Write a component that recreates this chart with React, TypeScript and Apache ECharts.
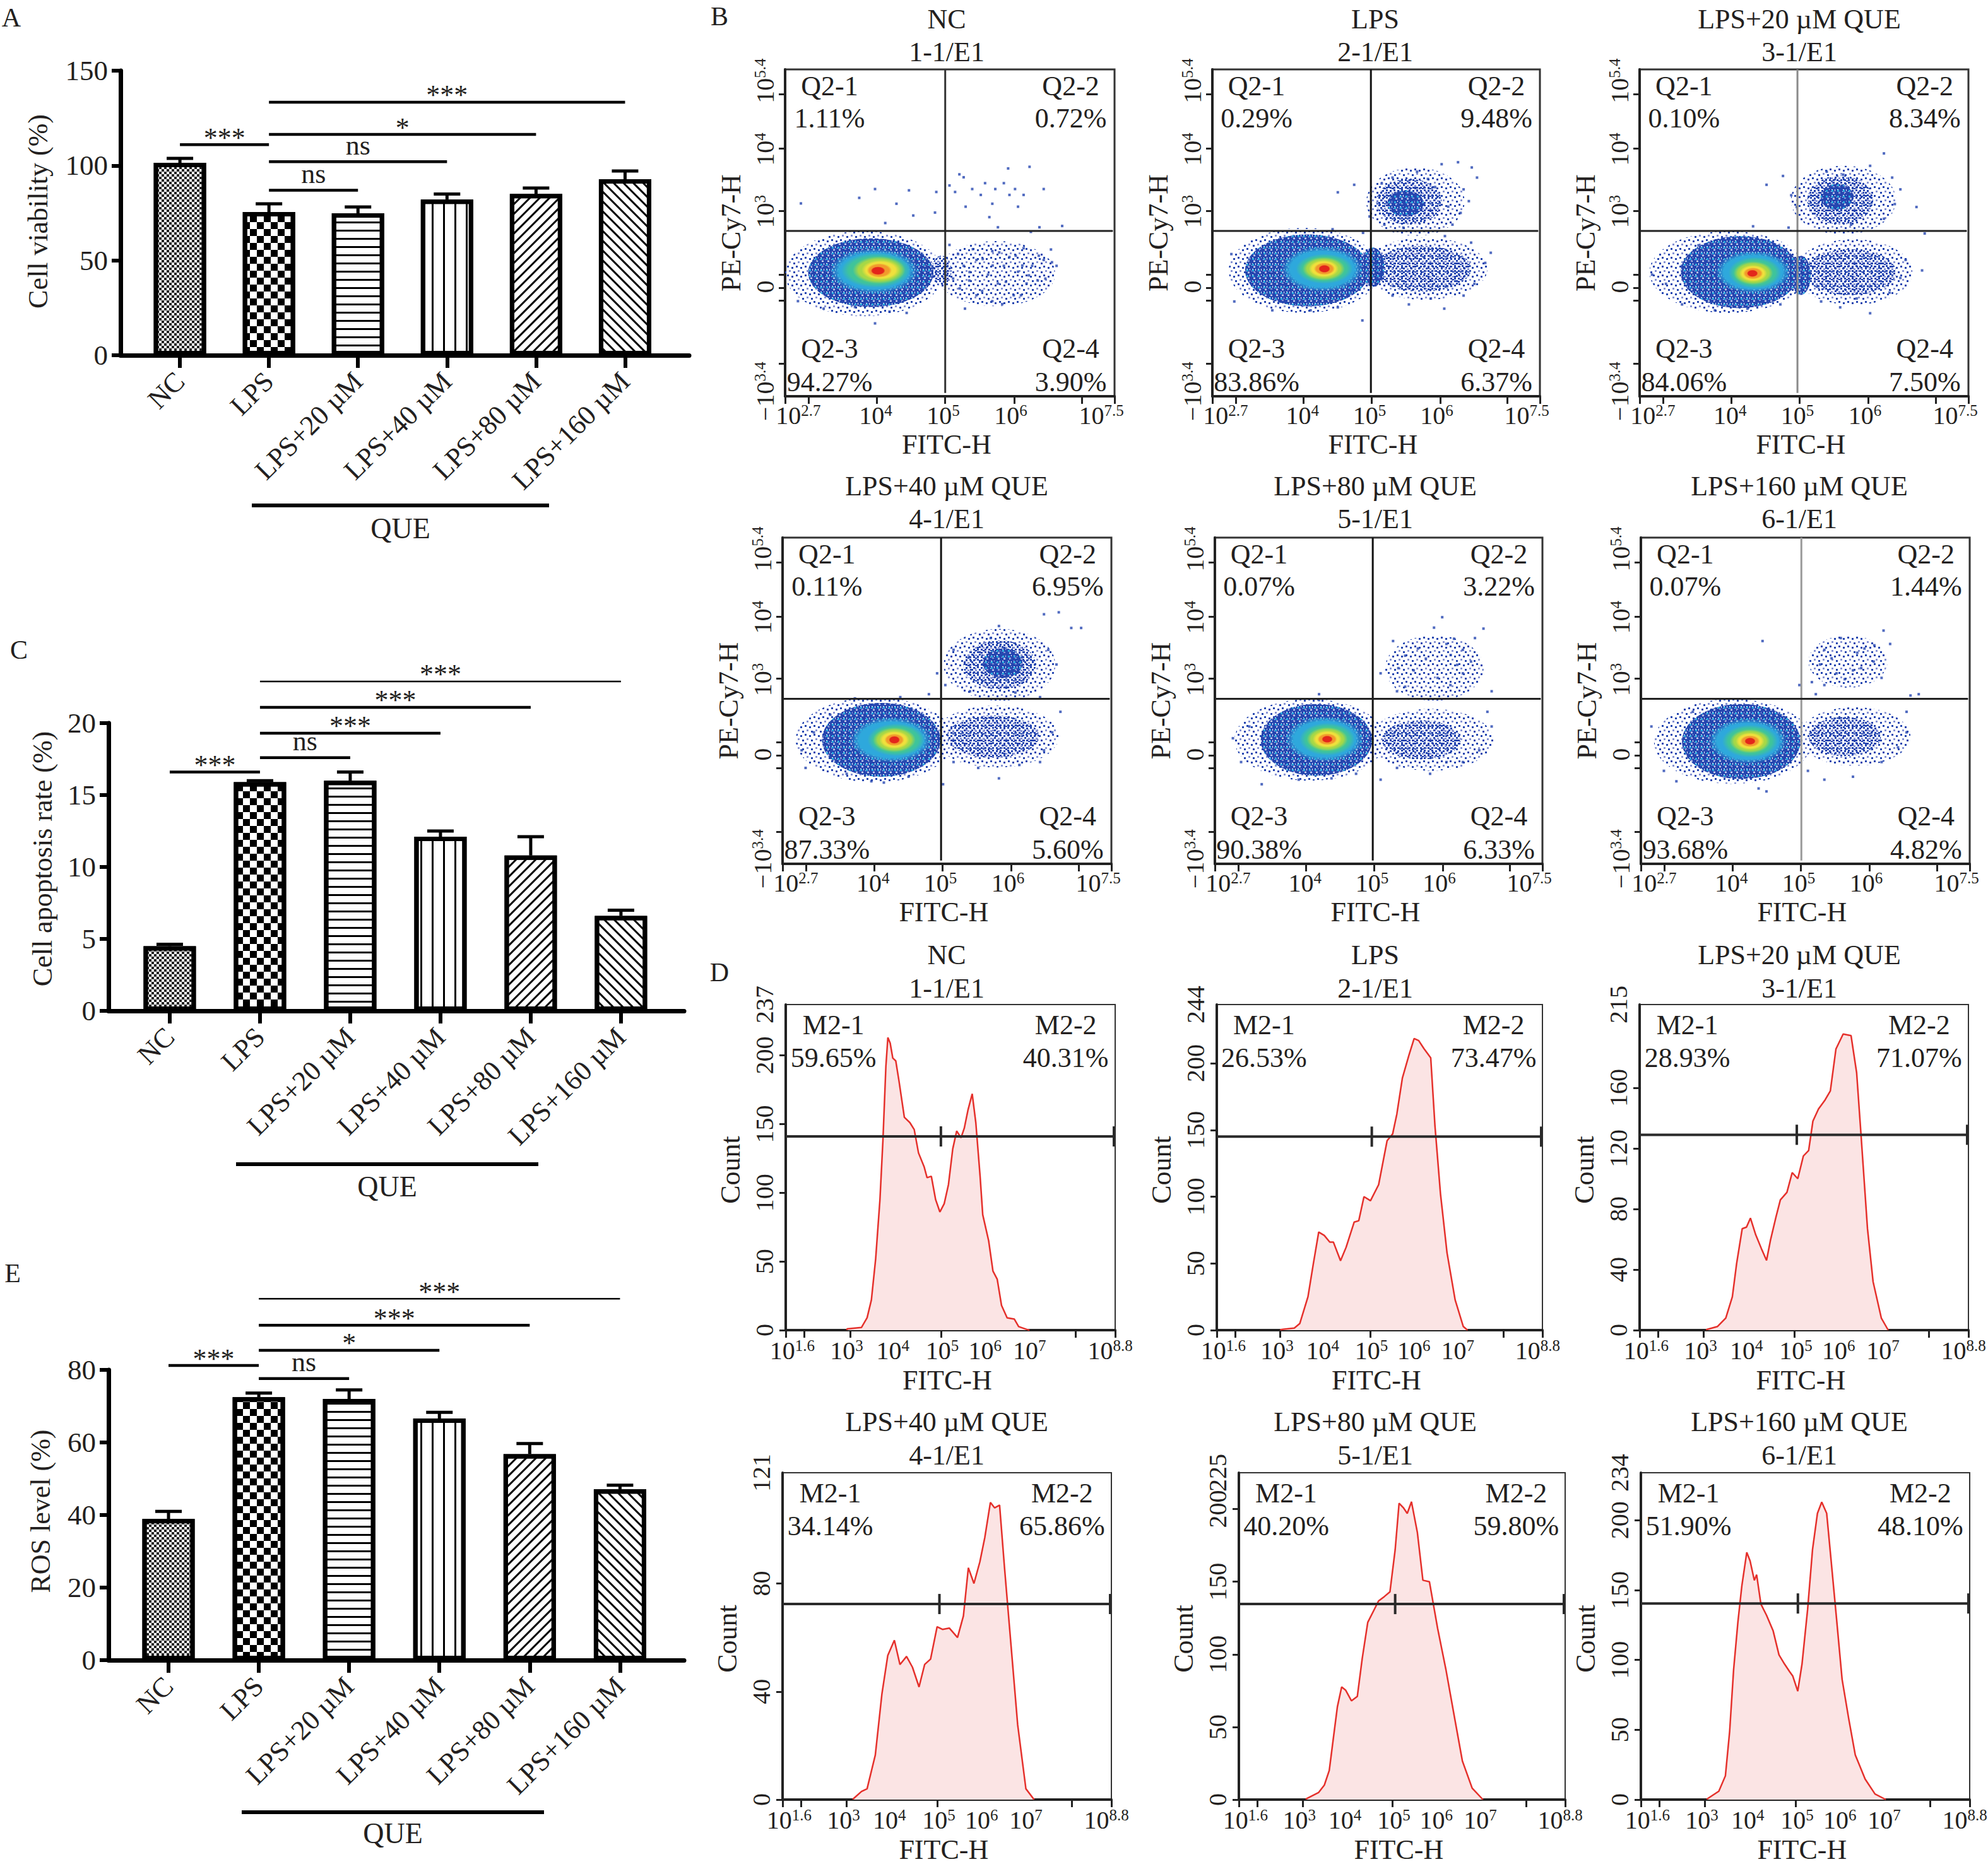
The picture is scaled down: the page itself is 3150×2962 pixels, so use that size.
import { useEffect, useRef } from 'react';
import * as echarts from 'echarts';

const FONT = '"Liberation Serif", "Times New Roman", serif';
const INK = '#231f20';

// ---------- bar panels A, C, E ----------
const groups = ['NC', 'LPS', 'LPS+20 µM', 'LPS+40 µM', 'LPS+80 µM', 'LPS+160 µM'];
const viability = [101.4, 75.5, 74.8, 82.1, 85.1, 92.8];
const viabilityErr = [2.4, 4.3, 3.4, 2.9, 3.0, 4.3];
const apoptosis = [4.5, 15.9, 16.0, 12.1, 10.8, 6.6];
const apoptosisErr = [0.13, 0.1, 0.6, 0.4, 1.3, 0.4];
const ros = [38.9, 72.5, 72.0, 66.6, 56.8, 47.1];
const rosErr = [2.1, 1.1, 2.5, 1.7, 2.9, 1.1];
// [from group, to group, height, mark]
const viabilitySig = [[0, 1, 111, '***'], [1, 2, 87, 'ns'], [1, 3, 102, 'ns'], [1, 4, 116.4, '*'], [1, 5, 133.4, '***']];
const apoptosisSig = [[0, 1, 16.6, '***'], [1, 2, 17.6, 'ns'], [1, 3, 19.3, '***'], [1, 4, 21.1, '***'], [1, 5, 22.9, '***']];
const rosSig = [[0, 1, 81.2, '***'], [1, 2, 77.6, 'ns'], [1, 3, 85.4, '*'], [1, 4, 92.3, '***'], [1, 5, 99.6, '***']];

// ---------- flow panels B, D ----------
const flowTitles = ['NC', 'LPS', 'LPS+20 µM QUE', 'LPS+40 µM QUE', 'LPS+80 µM QUE', 'LPS+160 µM QUE'];
const flowSamples = ['1-1/E1', '2-1/E1', '3-1/E1', '4-1/E1', '5-1/E1', '6-1/E1'];
const quadPct = [
  ['1.11%', '0.72%', '94.27%', '3.90%'],
  ['0.29%', '9.48%', '83.86%', '6.37%'],
  ['0.10%', '8.34%', '84.06%', '7.50%'],
  ['0.11%', '6.95%', '87.33%', '5.60%'],
  ['0.07%', '3.22%', '90.38%', '6.33%'],
  ['0.07%', '1.44%', '93.68%', '4.82%'],
];
const gatePct = [
  ['59.65%', '40.31%'], ['26.53%', '73.47%'], ['28.93%', '71.07%'],
  ['34.14%', '65.86%'], ['40.20%', '59.80%'], ['51.90%', '48.10%'],
];

// scatter axes (positions in % of the plot box)
const dotXPos = [4, 27.5, 48, 68.5, 96];
const dotXText = ['10{s|2.7}', '10{s|4}', '10{s|5}', '10{s|6}', '10{s|7.5}'];
const dotXTicks = [0, 7.1, 27.8, 48.6, 69.6, 90, 100];
const dotYPos = [1.5, 33.5, 56.5, 75.6, 96.5];
const dotYText = ['−10{s|3.4}', '0', '10{s|3}', '10{s|4}', '10{s|5.4}'];
const dotYTicks = [9.9, 29.3, 33.2, 37.2, 56.8, 75.8, 92.5];
const quadX = [48.6, 48.4, 48, 48.2, 48.2, 48.8];
const quadY = 50.6;

// density layers [cx, cy, rx, ry, level] and single events [x, y]
const densNC = [
  [24, 37.5, 24, 13, 0], [64, 37.5, 18, 10, 0], [47.5, 38.5, 3, 4.5, 1],
  [26, 37.8, 19, 10.5, 2], [27, 38.3, 13.5, 7, 3], [27.5, 38.5, 10.5, 5.3, 4], [28.5, 38.6, 8, 4.2, 5],
  [29, 38.6, 5.8, 3.1, 6], [28.6, 38.5, 3.8, 2.2, 7], [28.2, 38.4, 2.2, 1.3, 8],
];
const densLPS = [
  [28, 38.5, 23, 13, 0], [62, 59.5, 15, 10.5, 0], [65, 39, 19, 9.5, 0], [64, 39, 15, 7, 1], [60, 59.5, 10, 7, 1],
  [59, 59, 5.5, 4, 2], [49, 39.5, 3.5, 6, 2],
  [29, 38.5, 19, 11, 2], [33.5, 38.9, 12.5, 7, 3], [34.2, 39, 8.7, 4.6, 4], [34, 39, 6.5, 3.6, 5],
  [34, 39, 4.6, 2.7, 6], [34.2, 39, 3.2, 1.9, 7], [34.2, 39, 1.8, 1.2, 8],
];
const dens20 = [
  [27, 38, 24, 12.5, 0], [62, 60, 16, 10.5, 0], [65, 38, 18, 10, 0], [64, 38, 14, 7, 1], [61, 60, 10, 7.5, 1],
  [60, 61, 5, 4, 2], [49, 37, 3, 6, 2],
  [30.5, 38, 18, 11, 2], [34.5, 38, 11.5, 6.5, 3], [35, 37.8, 8, 4.8, 4], [34.6, 37.7, 6, 3.6, 5],
  [34.5, 37.6, 4.3, 2.6, 6], [34.5, 37.6, 3, 1.8, 7], [34.3, 37.6, 1.7, 1.1, 8],
];
const dens40 = [
  [28, 38, 24, 13, 0], [66, 61, 17, 11, 0], [65, 39, 19, 9.5, 0], [64, 39, 14, 6.5, 1], [66, 61, 11, 7.5, 1],
  [67, 61.5, 6, 4.5, 2],
  [30, 38, 18, 11.3, 2], [33, 38, 12.5, 7, 3], [34.5, 38, 8.7, 5, 4], [34, 38, 6.5, 3.8, 5],
  [34, 38, 4.6, 2.8, 6], [34, 38, 3, 1.9, 7], [34, 38, 1.7, 1.2, 8],
];
const dens80 = [
  [29, 38, 23, 12.5, 0], [67, 60, 15, 10, 0], [66, 38, 19, 9.5, 0], [63, 38, 12, 6, 1],
  [31, 38, 17, 11, 2], [33.5, 38.2, 12, 7, 3], [34.3, 38.2, 8.5, 5, 4], [34.3, 38.2, 6.3, 3.7, 5],
  [34.3, 38.2, 4.5, 2.7, 6], [34.3, 38.2, 3, 1.8, 7], [34.3, 38.2, 1.7, 1.1, 8],
];
const dens160 = [
  [28, 37.5, 24, 13, 0], [63, 62, 12, 8, 0], [65, 39, 17, 9, 0], [62, 39, 11, 6, 1],
  [30.5, 37.5, 18, 11.5, 2], [32.5, 37.6, 12, 7, 3], [33.2, 37.6, 8.5, 5, 4], [33.2, 37.6, 6.2, 3.7, 5],
  [33.2, 37.6, 4.4, 2.7, 6], [33.2, 37.6, 3, 1.8, 7], [33.2, 37.6, 1.7, 1.1, 8],
];
const dotsNC = [
  [4.8, 59], [22.5, 60.7], [27.3, 63.4], [30.4, 53], [33.8, 58.9], [37.6, 63], [38.9, 55.3], [45.9, 62.5], [45.5, 56.2],
  [49.9, 64.5], [52.9, 67.9], [54.2, 67], [51.6, 62.5], [54.8, 58], [56.8, 63.4], [59.4, 61.6], [60.7, 65.2], [62, 54.8],
  [62.9, 58.9], [63.8, 63.4], [66.4, 65.2], [67.7, 69.7], [68.1, 61.6], [69.8, 63.4], [70.7, 58], [72.4, 61.6], [74.2, 70.2],
  [78.5, 63.4], [84.1, 52.1], [77.2, 51.7], [64.6, 51.7], [74.6, 50.3],
  [49.9, 46.3], [52.5, 43.5], [54.2, 39.9], [55.9, 35.4], [58.1, 41.7], [59.8, 32.2], [61.6, 37.2], [62.9, 44.4], [64.6, 34.5],
  [66.4, 39.9], [68.1, 42.6], [69.4, 30.9], [70.7, 38.1], [72.4, 45.3], [73.3, 34.5], [75, 39.9], [76.7, 35.4], [78.5, 41.7],
  [80.7, 44.9], [82.4, 39.9], [54.6, 26.8], [62.9, 29.1], [65.9, 28.2], [71.6, 30.9], [58.1, 30.9],
  [51, 36], [53, 33], [57, 45], [60, 42], [63, 40], [67, 35], [70, 43], [74, 37], [77, 43], [79, 36], [81, 41], [56, 38], [65, 44], [72, 40],
  [27.3, 22.3], [11.7, 26.8], [3.9, 29.1], [36.9, 25.5], [31.7, 25.9], [21.2, 27.3],
];
const dotsLPS = [
  [43.3, 64.7], [38.3, 62.4], [62.5, 68.7], [70, 71], [75, 71.6], [79.2, 70], [80.8, 66.9], [76.7, 63.3], [78.3, 59.7],
  [75.8, 56.1], [73.3, 52.5], [51.7, 65.1], [55, 66.9], [65.8, 66.5], [52.5, 52.5], [58.3, 51.6], [36.7, 51.1], [31.7, 48.9],
  [68, 64], [72, 58], [48, 55], [46, 50], [71, 49], [79, 47],
  [83.3, 40.8], [85, 43.9], [80, 34.4], [76.7, 30.8], [70.8, 26.8], [60, 28.1], [66.7, 29.9], [55, 30.8],
  [5.8, 43.5], [6.7, 29], [18.3, 26.3], [30, 26.3], [45.8, 23.2], [38.3, 27.2], [11.7, 36.2],
];
const dots20 = [
  [74.3, 74.3], [43.6, 67.4], [38.6, 64.7], [56.9, 68.7], [61.9, 67.8], [70.1, 70.5], [76.8, 66.9], [79.3, 63.3], [77.6, 58.8],
  [84.2, 57.9], [86.7, 49.8], [46.1, 61.5], [47.8, 57.9], [45.3, 51.6], [34.5, 52], [64.3, 52.5], [74.3, 54.3],
  [80.9, 41.7], [79.3, 36.2], [85.9, 38.5], [76, 31.7], [70.1, 25.4], [61, 27.2], [55.2, 29], [66, 29.9],
  [3.8, 37.2], [8, 34.4], [12.9, 39.9], [12.9, 28.1], [22.9, 26.3], [32.8, 26.8], [42.8, 28.1], [17.9, 46.2],
];
const dots40 = [
  [79.5, 76.5], [84, 77.1], [87.8, 72.3], [90.8, 72.3], [65.8, 72.9], [63.3, 69.2], [52, 65.6], [47, 58.4], [49.5, 54.8],
  [57, 52.9], [70.8, 52.5], [78.3, 51.1], [80.8, 65.6], [83.3, 61.1], [44.5, 52], [22, 50.7], [35.8, 51.1],
  [84.5, 46.6], [82, 40.3], [79.5, 34.8], [78.3, 31.2], [72, 30.3], [65.8, 26.2], [59.5, 29.4], [52, 31.2], [48.8, 24.4],
  [7, 29.4], [5.8, 34.8], [14.5, 45.7], [9.5, 40.3], [27, 25.3], [30.8, 24.9], [38.3, 26.7], [19.5, 27.6],
];
const dots80 = [
  [69.4, 75.6], [66.9, 72.4], [82, 72.1], [54.4, 68.3], [58.1, 63.8], [60.7, 59.3], [64.4, 62.9], [70.7, 67.4], [75.7, 65.6],
  [79.4, 69.2], [78.2, 62], [75.7, 58.4], [71.9, 54.8], [55.6, 52.9], [58.1, 54.3], [84.5, 52.9], [50.6, 58.4], [31.8, 52],
  [31.8, 50.2], [72, 64], [74, 61], [68, 57], [62, 66], [56, 60], [73, 69],
  [83.2, 46.6], [84.5, 42.1], [80.7, 34.8], [75.7, 31.2], [65.7, 27.6], [55.6, 29.4], [50.6, 25.8], [70.7, 31.2],
  [5.5, 38.5], [10.5, 42.1], [8, 31.2], [14.3, 24.4], [25.6, 25.8], [35.6, 26.2], [43.1, 27.6],
];
const dots160 = [
  [37, 68.3], [60.8, 69.2], [73.8, 71.5], [75.8, 67.4], [55.8, 65.6], [65.8, 64.7], [70.8, 62], [54.5, 61.1], [59.5, 58.4],
  [64.5, 59.3], [73.2, 57], [52, 55.7], [55.8, 54.8], [48.2, 54.8], [53.2, 52], [82, 51.6], [84.5, 52], [62, 56.6],
  [68, 66], [58, 63], [67, 60], [71, 67],
  [80.8, 46.6], [80.8, 40.3], [78.2, 35.7], [73.2, 31.2], [64.5, 26.7], [55.8, 25.8], [50.8, 28.5],
  [3.2, 42.1], [7, 28.5], [10.8, 25.3], [25.8, 26.7], [35.8, 23.1], [38.2, 22.2], [15.8, 46.6],
];

// histograms: [x in % of box, count]
const histNC = [
  [18.6, 0], [18.6, 0.9], [23, 2], [24.7, 9], [26, 22], [27.3, 52], [28.6, 95], [29.5, 138], [30.4, 192], [31, 213],
  [31.7, 209], [32.5, 198], [33.4, 196], [34.4, 181], [36, 155], [37.7, 151], [39, 146], [40.3, 129], [42, 119],
  [42.9, 111], [44.2, 112], [45.5, 95], [46.8, 86], [48.1, 92], [49.4, 106], [50.7, 132], [51.9, 145], [53.2, 140],
  [54.2, 147], [55.3, 160], [56.6, 172], [57.7, 151], [59, 112], [59.8, 84], [61.6, 65], [62.9, 43], [64.2, 37],
  [65.5, 18], [67.2, 9], [69.4, 8], [70.7, 2.6], [73.3, 0.4], [74, 0],
];
const histLPS = [
  [19.6, 0], [19.6, 0.4], [23.8, 1.5], [25.5, 5], [28, 25], [29.6, 49], [31.3, 73.5], [33, 71], [34.7, 66], [35.8, 66],
  [38, 52], [39.7, 62], [42.2, 81], [43.6, 82], [45.2, 100], [47.2, 97], [49.7, 109], [52.3, 142], [54, 147], [55.3, 162],
  [57, 189], [59, 206], [60.6, 218.5], [62, 217], [63.6, 211], [65.7, 204], [67, 153], [68.7, 102], [70.7, 58],
  [73.2, 22.6], [75.7, 2.7], [77, 0],
];
const hist20 = [
  [20.4, 0], [20.4, 0.4], [23.7, 2.4], [26.2, 8], [28.2, 22], [29.5, 44], [31.2, 67], [32.5, 68], [33.7, 74], [35.3, 63],
  [37, 54], [38.6, 46], [39.8, 59.5], [41.5, 75], [42.8, 86], [44.8, 91], [46.4, 104], [48.1, 100], [49.8, 115],
  [51.4, 118.6], [52.7, 138], [54.4, 146], [56.4, 152], [58, 158], [59.7, 185.6], [61.9, 195.5], [64.3, 194.5],
  [66, 170], [67.3, 130], [69.3, 67], [71, 32], [73.5, 8], [75.6, 0],
];
const hist40 = [
  [21.5, 0], [21.5, 0.3], [24, 3], [25.7, 4], [28.2, 16.5], [30.2, 39], [32, 53.4], [34, 59], [35.7, 50], [37.7, 53],
  [39.5, 49], [41.5, 41.7], [43.2, 50], [45, 52], [47, 64], [48.7, 63], [50.7, 63.5], [53.2, 60], [55, 68], [56.5, 85.8],
  [58.2, 80], [60, 88], [61.5, 97], [63.2, 110], [64.5, 108], [66, 109], [67.5, 85.8], [69.5, 56.8], [71.5, 27.7],
  [74, 4], [76.5, 0],
];
const hist80 = [
  [20.7, 0], [20.7, 0.6], [24.4, 4.8], [26.2, 10], [27.7, 20], [29, 43], [30.2, 64], [31.5, 77.5], [32.7, 75.4],
  [34.5, 68], [36.3, 71], [37.8, 97], [39.5, 122], [41.3, 130], [42.8, 136.7], [44.6, 139.8], [46.3, 143], [47.9, 172],
  [49.1, 204], [50.4, 201], [51.6, 197], [52.9, 205], [54.7, 184], [56.4, 151], [58.4, 150], [60.9, 118], [63.5, 89],
  [66, 57.7], [68.5, 26.6], [71.5, 7.9], [74.8, 0],
];
const hist160 = [
  [20.2, 0], [20.2, 0.6], [23.7, 6], [25.7, 17], [27, 49], [28.2, 93], [29.5, 127], [30.7, 153], [32.2, 177], [33.2, 171],
  [34.5, 157], [35.2, 161], [36.5, 140], [38.2, 132], [40.2, 121], [42, 103.6], [43.7, 97], [45.2, 91.7], [46.2, 88.4],
  [47.7, 77.6], [49, 97], [50.7, 136], [52.2, 179], [53.7, 205], [55, 213], [56.5, 205], [57.7, 175], [59.5, 129.6],
  [61.2, 86], [63.2, 58], [65.2, 32], [68.2, 14.7], [71.2, 4], [74.5, 0],
];
const histMax = [237, 244, 215, 121, 225, 234];
const histYTicks = [
  [0, 50, 100, 150, 200], [0, 50, 100, 150, 200], [0, 40, 80, 120, 160],
  [0, 40, 80], [0, 50, 100, 150, 200], [0, 50, 100, 150, 200],
];
const histXPos = [2, 18.5, 32.5, 47.5, 60.5, 74, 98.5];
const histXText = ['10{s|1.6}', '10{s|3}', '10{s|4}', '10{s|5}', '10{s|6}', '10{s|7}', '10{s|8.8}'];
const histXTicks = [0, 5.6, 19.5, 47.1, 88, 100];
const markerLevel = [141, 145, 129, 72.4, 134.6, 140.4];
const markerGate = [47.1, 47.6, 47.8, 47.7, 47.9, 47.75];

// ---------- layout (pixels) ----------
const barLayout = [
  { box: [191, 112, 901, 451], range: [-0.667, 5.72], nameAt: [60, 335], que: [399, 870, 801, 837], letter: [18, 28] },
  { box: [172, 1146, 912, 456], range: [-0.678, 5.7], nameAt: [67, 1361], que: [374, 853, 1845, 1880], letter: [30, 1030] },
  { box: [172, 2171, 912, 460], range: [-0.664, 5.71], nameAt: [64, 2395], que: [383, 862, 2872, 2905], letter: [20, 2018] },
];
const dotBoxes = [
  [1244, 110, 522, 518], [1921, 110, 519, 518], [2598, 110, 521, 518],
  [1240, 852, 521, 517], [1925, 852, 519, 517], [2600, 852, 521, 517],
];
const histBoxes = [
  [1245, 1592, 522, 516], [1928, 1592, 516, 516], [2598, 1592, 521, 516],
  [1240, 2334, 521, 518], [1963, 2334, 517, 518], [2600, 2334, 521, 518],
];
const titleX = [1500, 2179, 2851];

// ---------- styles ----------
const BLUE = '#2546b0';
const LAV = '#8793d4';
const CYAN = '#29a9de';
// speckle tiles: [size, [x, y, colour]...]
const tileSparse: any = [14, [[1, 1, BLUE], [8, 3, BLUE], [4, 8, LAV], [11, 10, BLUE]]];
const tileMedium: any = [12, [[0, 0, BLUE], [6, 1, BLUE], [3, 4, BLUE], [9, 5, LAV], [0, 8, BLUE], [6, 8, BLUE], [9, 10, BLUE]]];
const tileDense: any = [9, [[0, 0, BLUE], [3, 0, BLUE], [6, 1, BLUE], [1, 3, BLUE], [4, 4, CYAN], [7, 4, BLUE], [0, 6, BLUE], [3, 7, BLUE], [6, 7, LAV]]];
const coreColors = ['', '', '', '#2ea8dc', '#3fc49a', '#a7d846', '#f0e03c', '#f29a2c', '#e3261b'];
const quadColors = ['#333', '#111', '#8a8a8a', '#111', '#111', '#9a9a9a'];

const decals: any[] = [
  { symbol: 'rect', symbolSize: 1, dashArrayX: [[4, 4], [0, 4, 4, 0]], dashArrayY: [4, 0], color: '#222' },
  { symbol: 'rect', symbolSize: 1, dashArrayX: [[11, 11], [0, 11, 11, 0]], dashArrayY: [11, 0], color: '#000' },
  { symbol: 'rect', symbolSize: 1, dashArrayX: [1, 0], dashArrayY: [3, 10], color: '#000' },
  { symbol: 'rect', symbolSize: 1, dashArrayX: [3, 15], dashArrayY: [1, 0], color: '#000' },
  { symbol: 'rect', symbolSize: 1, dashArrayX: [1, 0], dashArrayY: [3, 8], rotation: -Math.PI / 4, color: '#000' },
  { symbol: 'rect', symbolSize: 1, dashArrayX: [1, 0], dashArrayY: [3, 8], rotation: Math.PI / 4, color: '#000' },
];

function speckle(tile: any) {
  const c = document.createElement('canvas');
  c.width = tile[0];
  c.height = tile[0];
  const ctx = c.getContext('2d')!;
  tile[1].forEach((t: any) => {
    ctx.fillStyle = t[2];
    ctx.fillRect(t[0], t[1], 3, 3);
  });
  return { image: c, repeat: 'repeat' };
}

function soft(color: string) {
  return {
    type: 'radial', x: 0.5, y: 0.5, r: 0.5,
    colorStops: [{ offset: 0, color }, { offset: 0.78, color }, { offset: 1, color: color + '00' }],
  };
}

function txt(x: number, y: number, text: string, size = 44, rotation = 0, align = 'center') {
  return {
    type: 'text', x, y, rotation, silent: true,
    style: { text, fontSize: size, fontFamily: FONT, fill: INK, align, verticalAlign: 'middle', textAlign: align, textVerticalAlign: 'middle' },
  };
}

function pick(pos: number[], text: string[]) {
  return (v: number) => {
    const i = pos.findIndex((p) => Math.abs(p - v) < 1e-6);
    return i < 0 ? '' : text[i];
  };
}

const sup = { s: { fontSize: 25, fontFamily: FONT, color: INK, verticalAlign: 'top', lineHeight: 22 } };

function buildOption() {
  const grid: any[] = [];
  const xAxis: any[] = [];
  const yAxis: any[] = [];
  const extraY: any[] = [];
  const series: any[] = [];
  const graphic: any[] = [];
  let gi = 0;

  const bars = [
    { values: viability, errs: viabilityErr, sig: viabilitySig, max: 150, step: 50, name: 'Cell viability (%)', letter: 'A' },
    { values: apoptosis, errs: apoptosisErr, sig: apoptosisSig, max: 20, step: 5, name: 'Cell apoptosis rate (%)', letter: 'C' },
    { values: ros, errs: rosErr, sig: rosSig, max: 80, step: 20, name: 'ROS level (%)', letter: 'E' },
  ];

  bars.forEach((p, k) => {
    const L = barLayout[k];
    grid.push({ left: L.box[0], top: L.box[1], width: L.box[2], height: L.box[3], containLabel: false, outerBoundsMode: 'none' });
    xAxis.push({
      gridIndex: gi, type: 'value', min: L.range[0], max: L.range[1],
      axisLine: { show: true, onZero: false, lineStyle: { color: '#000', width: 7 } },
      axisTick: { show: true, customValues: [0, 1, 2, 3, 4, 5], length: 20, lineStyle: { color: '#000', width: 6 } },
      axisLabel: {
        customValues: [0, 1, 2, 3, 4, 5], formatter: (v: number) => groups[Math.round(v)] ?? '',
        rotate: 45, margin: 34, fontSize: 44, fontFamily: FONT, color: INK, hideOverlap: false,
      },
      splitLine: { show: false },
    });
    yAxis.push({
      gridIndex: gi, type: 'value', min: 0, max: p.max, interval: p.step,
      axisLine: { show: true, onZero: false, lineStyle: { color: '#000', width: 7 } },
      axisTick: { show: true, length: 14, lineStyle: { color: '#000', width: 6 } },
      axisLabel: { fontSize: 45, fontFamily: FONT, color: INK, margin: 20, hideOverlap: false, showMaxLabel: true },
      splitLine: { show: false },
    });
    series.push({
      type: 'bar', xAxisIndex: gi, yAxisIndex: gi, barWidth: 83, z: 2, silent: true,
      data: p.values.map((v, i) => ({
        value: [i, v],
        itemStyle: { color: '#fff', borderColor: '#000', borderWidth: 7, decal: decals[i] },
      })),
    });
    series.push({
      type: 'custom', xAxisIndex: gi, yAxisIndex: gi, z: 3, silent: true, clip: false,
      data: p.values.map((v, i) => [i, v, p.errs[i]]),
      renderItem: (_: any, api: any) => {
        const a = api.coord([api.value(0), api.value(1)]);
        const b = api.coord([api.value(0), api.value(1) + api.value(2)]);
        const st = { stroke: '#000', lineWidth: 5 };
        return {
          type: 'group', children: [
            { type: 'line', shape: { x1: a[0], y1: a[1], x2: b[0], y2: b[1] }, style: st },
            { type: 'line', shape: { x1: b[0] - 21, y1: b[1], x2: b[0] + 21, y2: b[1] }, style: st },
          ],
        };
      },
    });
    series.push({
      type: 'custom', xAxisIndex: gi, yAxisIndex: gi, z: 4, silent: true, clip: false,
      data: p.sig.map((s) => [s[0], s[1], s[2]]),
      renderItem: (params: any, api: any) => {
        const a = api.coord([api.value(0), api.value(2)]);
        const b = api.coord([api.value(1), api.value(2)]);
        const mark = String(p.sig[params.dataIndex][3]);
        const star = mark.indexOf('*') >= 0;
        const thin = k > 0 && params.dataIndex === 4;
        return {
          type: 'group', children: [
            { type: 'line', shape: { x1: a[0], y1: a[1], x2: b[0], y2: b[1] }, style: { stroke: '#000', lineWidth: thin ? 2.5 : 4.5 } },
            {
              type: 'text', x: (a[0] + b[0]) / 2, y: a[1] + (star ? -11 : -26),
              style: { text: mark, fontSize: 44, fontFamily: FONT, fill: INK, align: 'center', verticalAlign: 'middle', textAlign: 'center', textVerticalAlign: 'middle' },
            },
          ],
        };
      },
    });
    graphic.push(txt(L.nameAt[0], L.nameAt[1], p.name, 44, Math.PI / 2));
    graphic.push({ type: 'line', silent: true, shape: { x1: L.que[0], y1: L.que[2], x2: L.que[1], y2: L.que[2] }, style: { stroke: '#000', lineWidth: 6 } });
    graphic.push(txt((L.que[0] + L.que[1]) / 2, L.que[3], 'QUE', 46));
    graphic.push(txt(L.letter[0], L.letter[1], p.letter, 42));
    gi++;
  });

  // ---- scatter (panel B)
  const fills = [speckle(tileSparse), speckle(tileMedium), speckle(tileDense)];
  const dens = [densNC, densLPS, dens20, dens40, dens80, dens160];
  const dots = [dotsNC, dotsLPS, dots20, dots40, dots80, dots160];
  const ellipse = (_: any, api: any) => {
    const c = api.coord([api.value(0), api.value(1)]);
    const s = api.size([api.value(2), api.value(3)]);
    const lv = api.value(4);
    return {
      type: 'ellipse', shape: { cx: c[0], cy: c[1], rx: s[0], ry: s[1] },
      style: { fill: lv < 3 ? fills[lv] : soft(coreColors[lv]) },
    };
  };
  dotBoxes.forEach((b, p) => {
    grid.push({ left: b[0], top: b[1], width: b[2], height: b[3], show: true, borderColor: '#333', borderWidth: 3, containLabel: false, outerBoundsMode: 'none' });
    xAxis.push({
      gridIndex: gi, type: 'value', min: 0, max: 100,
      axisLine: { show: true, onZero: false, lineStyle: { color: '#222', width: 4 } },
      axisTick: { show: true, customValues: dotXTicks, length: 12, lineStyle: { color: '#222', width: 3 } },
      axisLabel: { customValues: dotXPos, formatter: pick(dotXPos, dotXText), rich: sup, fontSize: 40, fontFamily: FONT, color: INK, margin: 10, hideOverlap: false, showMinLabel: true, showMaxLabel: true },
      splitLine: { show: false },
    });
    yAxis.push({
      gridIndex: gi, type: 'value', min: 0, max: 100,
      axisLine: { show: true, onZero: false, lineStyle: { color: '#222', width: 4 } },
      axisTick: { show: true, customValues: dotYTicks, length: 10, lineStyle: { color: '#222', width: 3 } },
      axisLabel: { customValues: dotYPos, formatter: pick(dotYPos, dotYText), rich: sup, rotate: 90, fontSize: 40, fontFamily: FONT, color: INK, margin: 12, hideOverlap: false, showMinLabel: true, showMaxLabel: true },
      splitLine: { show: false },
    });
    series.push({ type: 'custom', xAxisIndex: gi, yAxisIndex: gi, z: 1, silent: true, clip: true, data: dens[p].filter((d) => d[4] < 2), renderItem: ellipse });
    series.push({ type: 'scatter', xAxisIndex: gi, yAxisIndex: gi, z: 2, silent: true, symbol: 'rect', symbolSize: 4, itemStyle: { color: BLUE }, data: dots[p] });
    series.push({ type: 'custom', xAxisIndex: gi, yAxisIndex: gi, z: 3, silent: true, clip: true, data: dens[p].filter((d) => d[4] >= 2), renderItem: ellipse });
    series.push({
      type: 'custom', xAxisIndex: gi, yAxisIndex: gi, z: 4, silent: true, clip: false,
      data: [[quadX[p], quadY]],
      renderItem: (_: any, api: any) => {
        const t = api.coord([api.value(0), 100]);
        const u = api.coord([api.value(0), 1]);
        const l = api.coord([0, api.value(1)]);
        const r = api.coord([99.5, api.value(1)]);
        return {
          type: 'group', children: [
            { type: 'line', shape: { x1: t[0], y1: t[1], x2: u[0], y2: u[1] }, style: { stroke: quadColors[p], lineWidth: 3 } },
            { type: 'line', shape: { x1: l[0], y1: l[1], x2: r[0], y2: r[1] }, style: { stroke: '#222', lineWidth: 3 } },
          ],
        };
      },
    });
    const row = Math.floor(p / 3);
    const col = p % 3;
    const [x0, y0, w, h] = b;
    graphic.push(txt(titleX[col], row === 0 ? 30 : 770, flowTitles[p]));
    graphic.push(txt(titleX[col], row === 0 ? 82 : 822, flowSamples[p]));
    graphic.push(txt(x0 - 86, y0 + h / 2, 'PE-Cy7-H', 44, Math.PI / 2));
    graphic.push(txt(x0 + 0.49 * w, y0 + h + 76, 'FITC-H'));
    const lx = x0 + 0.135 * w;
    const rx = x0 + 0.867 * w;
    graphic.push(txt(lx, y0 + 26, 'Q2-1'), txt(rx, y0 + 26, 'Q2-2'));
    graphic.push(txt(lx, y0 + 77, quadPct[p][0]), txt(rx, y0 + 77, quadPct[p][1]));
    graphic.push(txt(lx, y0 + h - 76, 'Q2-3'), txt(rx, y0 + h - 76, 'Q2-4'));
    graphic.push(txt(lx, y0 + h - 23, quadPct[p][2]), txt(rx, y0 + h - 23, quadPct[p][3]));
    gi++;
  });
  graphic.push(txt(1140, 26, 'B', 42));

  // ---- histograms (panel D)
  const hists = [histNC, histLPS, hist20, hist40, hist80, hist160];
  histBoxes.forEach((b, p) => {
    grid.push({ left: b[0], top: b[1], width: b[2], height: b[3], show: true, borderColor: '#333', borderWidth: 2, containLabel: false, outerBoundsMode: 'none' });
    xAxis.push({
      gridIndex: gi, type: 'value', min: 0, max: 100,
      axisLine: { show: true, onZero: false, lineStyle: { color: '#222', width: 4 } },
      axisTick: { show: true, customValues: histXTicks, length: 12, lineStyle: { color: '#222', width: 3 } },
      axisLabel: { customValues: histXPos, formatter: pick(histXPos, histXText), rich: sup, fontSize: 40, fontFamily: FONT, color: INK, margin: 12, hideOverlap: false, showMinLabel: true, showMaxLabel: true },
      splitLine: { show: false },
    });
    yAxis.push({
      gridIndex: gi, type: 'value', min: 0, max: histMax[p],
      axisLine: { show: true, onZero: false, lineStyle: { color: '#222', width: 4 } },
      axisTick: { show: true, customValues: histYTicks[p], length: 10, lineStyle: { color: '#222', width: 3 } },
      axisLabel: { customValues: histYTicks[p], rotate: 90, fontSize: 40, fontFamily: FONT, color: INK, margin: 14, hideOverlap: false, showMinLabel: true, showMaxLabel: true },
      splitLine: { show: false },
    });
    // the top count is labelled on its own axis so that it is never dropped for overlapping
    extraY.push({
      gridIndex: gi, type: 'value', min: 0, max: histMax[p], position: 'left',
      axisLine: { show: false }, axisTick: { show: false }, splitLine: { show: false },
      axisLabel: { customValues: [histMax[p]], rotate: 90, fontSize: 40, fontFamily: FONT, color: INK, margin: 14, hideOverlap: false, showMaxLabel: true },
    });
    series.push({
      type: 'line', xAxisIndex: gi, yAxisIndex: gi, z: 2, silent: true, symbol: 'none', data: hists[p],
      lineStyle: { color: '#e5302b', width: 2.5 }, areaStyle: { color: '#fbe4e4', opacity: 1 },
    });
    series.push({
      type: 'custom', xAxisIndex: gi, yAxisIndex: gi, z: 4, silent: true, clip: false,
      data: [[markerGate[p], markerLevel[p]]],
      renderItem: (_: any, api: any) => {
        const y = api.value(1);
        const a = api.coord([0, y]);
        const e = api.coord([100, y]);
        const g = api.coord([api.value(0), y]);
        const st = { stroke: '#2a2a2a', lineWidth: 4 };
        return {
          type: 'group', children: [
            { type: 'line', shape: { x1: a[0], y1: a[1], x2: e[0], y2: e[1] }, style: st },
            { type: 'line', shape: { x1: g[0], y1: g[1] - 16, x2: g[0], y2: g[1] + 16 }, style: st },
            { type: 'line', shape: { x1: e[0] - 2, y1: e[1] - 16, x2: e[0] - 2, y2: e[1] + 16 }, style: st },
          ],
        };
      },
    });
    const row = Math.floor(p / 3);
    const col = p % 3;
    const [x0, y0, w, h] = b;
    graphic.push(txt(titleX[col], row === 0 ? 1513 : 2253, flowTitles[p]));
    graphic.push(txt(titleX[col], row === 0 ? 1566 : 2306, flowSamples[p]));
    graphic.push(txt(x0 - 88, y0 + h / 2 + 4, 'Count', 44, Math.PI / 2));
    graphic.push(txt(x0 + 0.49 * w, y0 + h + 79, 'FITC-H'));
    const lx = x0 + 0.145 * w;
    const rx = x0 + 0.85 * w;
    graphic.push(txt(lx, y0 + 32, 'M2-1'), txt(rx, y0 + 32, 'M2-2'));
    graphic.push(txt(lx, y0 + 84, gatePct[p][0]), txt(rx, y0 + 84, gatePct[p][1]));
    gi++;
  });
  graphic.push(txt(1140, 1541, 'D', 42));

  return { animation: false, backgroundColor: '#fff', grid, xAxis, yAxis: yAxis.concat(extraY), series, graphic };
}

export default function App() {
  const ref = useRef<HTMLDivElement>(null);
  useEffect(() => {
    document.body.style.margin = '0';
    if (!ref.current) return;
    const chart = echarts.init(ref.current, undefined, { renderer: 'svg' });
    chart.setOption(buildOption() as any);
    return () => chart.dispose();
  }, []);
  return <div ref={ref} style={{ width: 3150, height: 2962 }} />;
}
